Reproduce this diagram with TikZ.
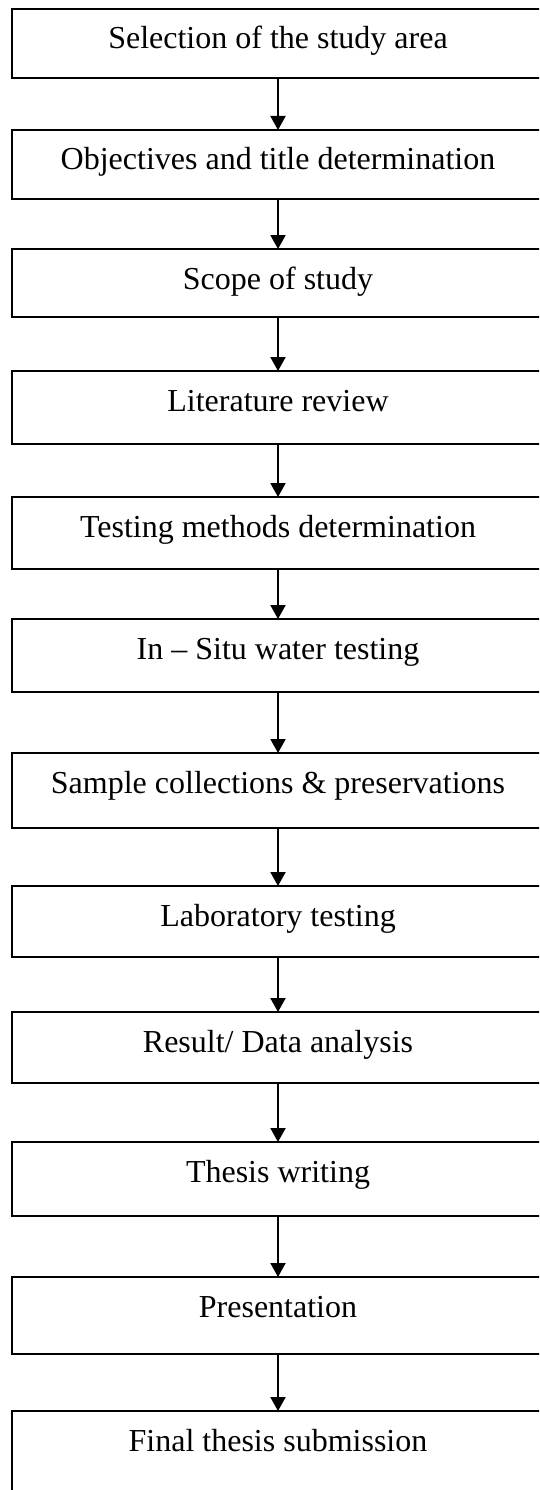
\documentclass[tikz,border=0pt]{standalone}
\usepackage{fontspec}
\setmainfont{Liberation Serif}
\usepackage{tikz}
\usetikzlibrary{arrows.meta}

\tikzset{
  etape/.style={draw, rectangle, line width=2pt, outer sep=0pt, inner sep=0pt,
    anchor=north, minimum width=532pt, text height=40pt, text depth=#1,
    font=\fontsize{32}{38}\selectfont},
  fleche/.style={line width=2pt, -{Triangle[width=15pt,length=14pt]}}
}

\begin{document}
\begin{tikzpicture}[x=1pt,y=-1pt]
            % Cadre de l'image
            \useasboundingbox (0,0) rectangle (539,1490);
            \clip (0,0) rectangle (539,1490);

            % Les étapes
            \node[etape=29pt] (s1) at (278,9) {Selection of the study area};
            \node[etape=29pt] (s2) at (278,130) {Objectives and title determination};
            \node[etape=28pt] (s3) at (278,249) {Scope of study};
            \node[etape=33pt] (s4) at (278,371) {Literature review};
            \node[etape=32pt] (s5) at (278,497) {Testing methods determination};
            \node[etape=33pt] (s6) at (278,619) {In – Situ water testing};
            \node[etape=35pt] (s7) at (278,753) {Sample collections \& preservations};
            \node[etape=31pt] (s8) at (278,886) {Laboratory testing};
            \node[etape=31pt] (s9) at (278,1012) {Result/ Data analysis};
            \node[etape=34pt] (s10) at (278,1142) {Thesis writing};
            \node[etape=37pt] (s11) at (278,1277) {Presentation};
            \node[etape=60pt] (s12) at (278,1411) {Final thesis submission};

            % Les flèches
            \draw[fleche] (s1) -- (s2);
            \draw[fleche] (s2) -- (s3);
            \draw[fleche] (s3) -- (s4);
            \draw[fleche] (s4) -- (s5);
            \draw[fleche] (s5) -- (s6);
            \draw[fleche] (s6) -- (s7);
            \draw[fleche] (s7) -- (s8);
            \draw[fleche] (s8) -- (s9);
            \draw[fleche] (s9) -- (s10);
            \draw[fleche] (s10) -- (s11);
            \draw[fleche] (s11) -- (s12);
\end{tikzpicture}
\end{document}
